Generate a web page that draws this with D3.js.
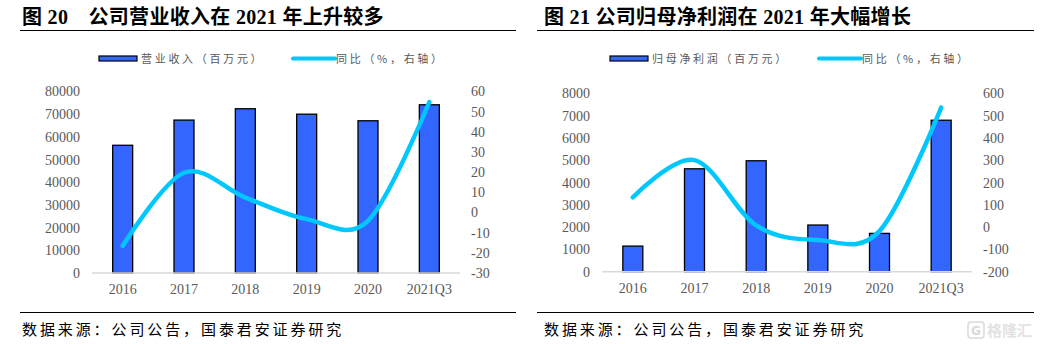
<!DOCTYPE html>
<html>
<head>
<meta charset="utf-8">
<script src="https://cdn.jsdelivr.net/npm/d3@7"></script>
<style>
  html, body { margin: 0; padding: 0; background: #fff; }
  svg { display: block; }
</style>
</head>
<body>
<svg id="chart" width="1042" height="344"></svg>
<script>
// Shared categories
const categories = ["2016", "2017", "2018", "2019", "2020", "2021Q3"];

// Figure 20: revenue (million yuan) and YoY growth (%)
const revenue = [56300, 67400, 72400, 70000, 67100, 74150];
const revenueYoY = [-16.5, 19.7, 7.4, -3.3, -4.1, 54.8];
const revenueTicks = [0, 10000, 20000, 30000, 40000, 50000, 60000, 70000, 80000];
const revenueYoYTicks = [-30, -20, -10, 0, 10, 20, 30, 40, 50, 60];

// Figure 21: net profit attributable to parent (million yuan) and YoY growth (%)
const netProfit = [1150, 4620, 4980, 2095, 1720, 6800];
const netProfitYoY = [134, 301, 7.8, -58, -17.8, 537];
const netProfitTicks = [0, 1000, 2000, 3000, 4000, 5000, 6000, 7000, 8000];
const netProfitYoYTicks = [-200, -100, 0, 100, 200, 300, 400, 500, 600];

const svg = d3.select("#chart");
const BAR = "#3366ff", LINE = "#00c8ff", TICK = "#595959";
const SERIF = "'Liberation Serif', 'Times New Roman', serif";
const CJK = "'Liberation Serif', 'Noto Sans CJK SC', sans-serif";
const plain = d => String(d);   // keep ASCII hyphen for negatives

function drawPanel(cfg) {
  const g = svg.append("g");

  // title + rule
  g.append("text")
    .attr("x", cfg.titleX).attr("y", 24)
    .attr("font-family", CJK).attr("font-weight", "bold")
    .attr("font-size", 20).attr("letter-spacing", 0.3).attr("fill", "#000")
    .attr("xml:space", "preserve")
    .text(cfg.title);
  g.append("line")
    .attr("x1", cfg.ruleX0).attr("x2", cfg.ruleX1)
    .attr("y1", 30.5).attr("y2", 30.5)
    .attr("stroke", "#000").attr("stroke-width", 1);

  // legend
  const lg = g.append("g").attr("font-family", "'Noto Sans CJK SC', sans-serif")
    .attr("font-size", 11).attr("fill", TICK).attr("letter-spacing", 2.7);
  lg.append("rect")
    .attr("x", cfg.legend.barX).attr("y", 56).attr("width", 38).attr("height", 5)
    .attr("fill", BAR).attr("stroke", "#000").attr("stroke-width", 1.2);
  lg.append("text").attr("x", cfg.legend.barX + 42).attr("y", 62.5).text(cfg.legend.barLabel);
  lg.append("line")
    .attr("x1", cfg.legend.lineX).attr("x2", cfg.legend.lineX + 42)
    .attr("y1", 58.5).attr("y2", 58.5)
    .attr("stroke", LINE).attr("stroke-width", 4).attr("stroke-linecap", "round");
  lg.append("text").attr("x", cfg.legend.lineX + 43).attr("y", 62.5).text(cfg.legend.lineLabel);

  // scales
  const x = d3.scaleBand().domain(categories).range([cfg.x0, cfg.x1]);
  const yL = d3.scaleLinear().domain(cfg.leftDomain).range([cfg.yBottom, cfg.yTop]);
  const yR = d3.scaleLinear().domain(cfg.rightDomain).range([cfg.yBottom, cfg.yTop]);

  // left axis
  const axL = g.append("g").attr("transform", `translate(${cfg.x0 - 12},0)`)
    .call(d3.axisLeft(yL).tickValues(cfg.leftTicks).tickSize(0).tickPadding(0).tickFormat(plain));
  axL.select(".domain").remove();
  axL.selectAll("text").attr("font-family", SERIF).attr("font-size", 14).attr("fill", TICK);

  // right axis
  const axR = g.append("g").attr("transform", `translate(${cfg.x1 + 11},0)`)
    .call(d3.axisRight(yR).tickValues(cfg.rightTicks).tickSize(0).tickPadding(0).tickFormat(plain));
  axR.select(".domain").remove();
  axR.selectAll("text").attr("font-family", SERIF).attr("font-size", 14).attr("fill", TICK);

  // bars
  const bw = 20;
  g.append("g").selectAll("rect").data(cfg.bars).join("rect")
    .attr("x", (d, i) => x(categories[i]) + x.bandwidth() / 2 - bw / 2)
    .attr("y", d => yL(d))
    .attr("width", bw)
    .attr("height", d => yL(0) - yL(d))
    .attr("fill", BAR).attr("stroke", "#000").attr("stroke-width", 1.3);

  // baseline
  g.append("line")
    .attr("x1", cfg.x0).attr("x2", cfg.x1)
    .attr("y1", cfg.yBottom).attr("y2", cfg.yBottom)
    .attr("stroke", "#d9d9d9").attr("stroke-width", 1.5);

  // x axis labels
  const axX = g.append("g").attr("transform", `translate(0,${cfg.yBottom + 11})`)
    .call(d3.axisBottom(x).tickSize(0).tickPadding(0));
  axX.select(".domain").remove();
  axX.selectAll("text").attr("font-family", SERIF).attr("font-size", 14).attr("fill", TICK);

  // YoY smoothed line
  const line = d3.line()
    .x((d, i) => x(categories[i]) + x.bandwidth() / 2)
    .y(d => yR(d))
    .curve(d3.curveCardinal.tension(0));
  g.append("path").datum(cfg.line)
    .attr("d", line).attr("fill", "none")
    .attr("stroke", LINE).attr("stroke-width", 4.5).attr("stroke-linecap", "round");

  // source rule + note
  g.append("line")
    .attr("x1", cfg.ruleX0).attr("x2", cfg.ruleX1)
    .attr("y1", 312.5).attr("y2", 312.5)
    .attr("stroke", "#000").attr("stroke-width", 1);
  g.append("text")
    .attr("x", cfg.titleX).attr("y", 335)
    .attr("font-family", "'Noto Sans CJK SC', sans-serif")
    .attr("font-size", 15).attr("letter-spacing", 2.9).attr("fill", "#000")
    .text("数据来源：公司公告，国泰君安证券研究");
}

drawPanel({
  title: "图 20　公司营业收入在 2021 年上升较多",
  titleX: 22, ruleX0: 20, ruleX1: 516,
  legend: { barX: 99, barLabel: "营业收入（百万元）", lineX: 293, lineLabel: "同比（%，右轴）" },
  x0: 92, x1: 460, yTop: 91.5, yBottom: 273,
  leftDomain: [0, 80000], rightDomain: [-30, 60],
  leftTicks: revenueTicks, rightTicks: revenueYoYTicks,
  bars: revenue, line: revenueYoY
});

drawPanel({
  title: "图 21 公司归母净利润在 2021 年大幅增长",
  titleX: 544, ruleX0: 537, ruleX1: 1034,
  legend: { barX: 610, barLabel: "归母净利润（百万元）", lineX: 819, lineLabel: "同比（%，右轴）" },
  x0: 602, x1: 972, yTop: 93.5, yBottom: 271.7,
  leftDomain: [0, 8000], rightDomain: [-200, 600],
  leftTicks: netProfitTicks, rightTicks: netProfitYoYTicks,
  bars: netProfit, line: netProfitYoY
});

// small publisher mark at the bottom right
const mark = svg.append("g").attr("opacity", 0.55);
mark.append("rect").attr("x", 968).attr("y", 322).attr("width", 16).attr("height", 16)
  .attr("rx", 3).attr("fill", "none").attr("stroke", "#bbb").attr("stroke-width", 1.5);
mark.append("text").attr("x", 976).attr("y", 335).attr("text-anchor", "middle")
  .attr("font-family", "'DejaVu Sans', sans-serif").attr("font-weight", "bold")
  .attr("font-size", 12).attr("fill", "#bbb").text("G");
mark.append("text").attr("x", 987).attr("y", 336)
  .attr("font-family", "'Noto Sans CJK SC', sans-serif").attr("font-weight", "bold")
  .attr("font-size", 15).attr("fill", "#ccc").text("格隆汇");
</script>
</body>
</html>
